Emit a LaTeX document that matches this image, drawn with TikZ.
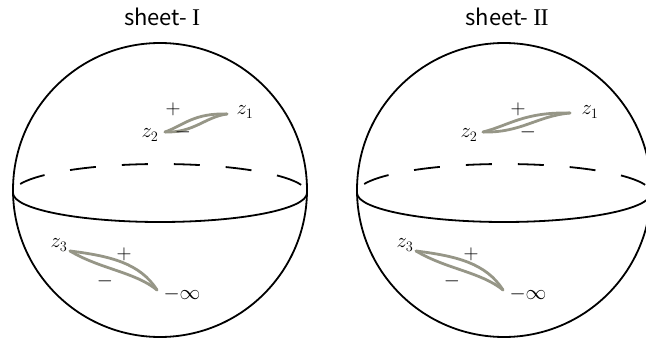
\documentclass[tikz,border=0pt]{standalone}
\usepackage{fontspec}
\newfontfamily\titlefont{Noto Sans CJK SC}
\newfontfamily\romanfont{Liberation Serif}
\definecolor{cutgray}{RGB}{150,150,135}
\tikzset{
  sphere/.style={line width=1.8pt},
  cutline/.style={draw=cutgray,line width=2.8pt,line cap=round,line join=round},
  lbl/.style={inner sep=0pt,font=\fontsize{20}{20}\selectfont},
  title/.style={inner sep=0pt,font=\fontsize{22}{22}\selectfont\titlefont}
}
\begin{document}
\begin{tikzpicture}[x=1pt,y=-1pt]
\useasboundingbox (0,0) rectangle (646,342);
% titles
\node[title] (t1) at (162,17) {sheet- {\romanfont\fontsize{24}{24}\selectfont I}};
\node[title] (t2) at (507,17) {sheet- {\romanfont\fontsize{24}{24}\selectfont I\kern-0.8pt I}};
% spheres
\draw[sphere] (160,190) circle[radius=147];
\draw[sphere] (13,193) arc[start angle=180,end angle=0,x radius=147,y radius=29];
\draw[sphere,dash pattern=on 26pt off 26pt,dash phase=40pt] (13,193) arc[start angle=180,end angle=360,x radius=147,y radius=29];
\draw[sphere] (504,190) circle[radius=147];
\draw[sphere] (357,193) arc[start angle=180,end angle=0,x radius=147,y radius=29];
\draw[sphere,dash pattern=on 26pt off 26pt,dash phase=40pt] (357,193) arc[start angle=180,end angle=360,x radius=147,y radius=29];
% left sphere cuts
\coordinate (a1) at (165,132);
\coordinate (b1) at (227,114);
\draw[cutline] (a1) .. controls (184,125) and (194,113) .. (b1);
\draw[cutline] (a1) .. controls (194,133) and (205,117) .. (b1);
\coordinate (c1) at (70,251);
\coordinate (d1) at (157,290);
\draw[cutline] (c1) .. controls (110,256) and (140,263) .. (d1);
\draw[cutline] (c1) .. controls (100,269) and (135,272) .. (d1);
% right sphere cuts
\coordinate (a2) at (483,132);
\coordinate (b2) at (570,113);
\draw[cutline] (a2) .. controls (510,125) and (524,112) .. (b2);
\draw[cutline] (a2) .. controls (521,133) and (537,116) .. (b2);
\coordinate (c2) at (416,251);
\coordinate (d2) at (503,290);
\draw[cutline] (c2) .. controls (456,256) and (486,263) .. (d2);
\draw[cutline] (c2) .. controls (446,269) and (481,272) .. (d2);
% labels left
\node[lbl] (z1a) at (245,112) {$z_1$};
\node[lbl] (z2a) at (150,135) {$z_2$};
\node[lbl] (pa) at (173,109) {$+$};
\node[lbl] (ma) at (183,132) {$-$};
\node[lbl] (z3a) at (59,245) {$z_3$};
\node[lbl] (pb) at (124,254) {$+$};
\node[lbl] (mb) at (105,281) {$-$};
\node[lbl] (ia) at (182,294) {$-\infty$};
% labels right
\node[lbl] (z1b) at (590,112) {$z_1$};
\node[lbl] (z2b) at (469,135) {$z_2$};
\node[lbl] (pc) at (518,109) {$+$};
\node[lbl] (mc) at (528,132) {$-$};
\node[lbl] (z3b) at (405,245) {$z_3$};
\node[lbl] (pd) at (471,254) {$+$};
\node[lbl] (md) at (452,281) {$-$};
\node[lbl] (ib) at (528,294) {$-\infty$};
\end{tikzpicture}
\end{document}
